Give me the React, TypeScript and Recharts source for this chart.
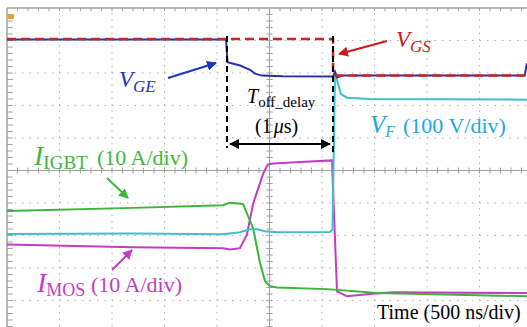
import { ComposedChart, Line, XAxis, YAxis, ReferenceLine } from "recharts";

// time in ns (500 ns/div), amplitude in screen divisions (center = 0)
const vgeT = [0, 2086, 2100, 2219, 2314, 2362, 2429, 2629, 3105, 3124, 3143, 3200, 3267, 4930, 4952];
const vgeV = [4.03, 4.03, 3.33, 3.23, 3.1, 2.98, 2.92, 2.9, 2.89, 3.04, 2.87, 2.92, 2.92, 2.92, 3.3];

const vgsT = [0, 3105, 3105, 4952];
const vgsV = [4.05, 4.05, 2.92, 2.92];

const vfT = [0, 1200, 2057, 2219, 2314, 2381, 2457, 2571, 3076, 3100, 3124, 3180, 3238, 3457, 4952];
const vfV = [-1.95, -1.94, -1.96, -1.9, -1.81, -1.81, -1.87, -1.9, -1.89, -1.81, 3.01, 2.35, 2.24, 2.2, 2.18];

const igbtT = [0, 1200, 2057, 2124, 2248, 2343, 2410, 2457, 2505, 2571, 3048, 3524, 4952];
const igbtV = [-1.25, -1.15, -1.07, -0.99, -1.03, -1.77, -2.85, -3.41, -3.56, -3.6, -3.65, -3.77, -3.87];

const mosT = [0, 1200, 2057, 2124, 2219, 2286, 2343, 2438, 2476, 2505, 2790, 3095, 3143, 3238, 3429, 3676, 4952];
const mosV = [-2.28, -2.36, -2.39, -2.43, -2.39, -1.96, -1.03, -0.11, 0.14, 0.21, 0.26, 0.31, -3.72, -3.87, -3.81, -3.75, -3.77];

const gridX = [500, 1000, 1500, 2000, 3000, 3500, 4000, 4500];
const gridY = [-4, -3, -2, -1, 1, 2, 3, 4];
const minorX = Array.from({ length: 49 }, (_, i) => (i + 1) * 100);
const minorY = Array.from({ length: 49 }, (_, i) => -4.8 + i * 0.2);

const toPts = (t: number[], v: number[]) => t.map((x, i) => ({ t: x, v: v[i] }));

const serif = "'Liberation Serif', 'Times New Roman', serif";
const gridColor = "#b4b4b4";
const axisColor = "#a0a0a0";

export default function App() {
  return (
    <div style={{ position: "absolute", left: 0, top: 0, width: 527, height: 327, overflow: "hidden", background: "#fff" }}>
      <ComposedChart width={532} height={333} margin={{ top: 8, left: 7, right: 0, bottom: 0 }}>
        <XAxis dataKey="t" type="number" domain={[0, 5000]} hide allowDataOverflow />
        <YAxis type="number" domain={[-5, 5]} hide allowDataOverflow />
        {gridX.map((x) => (
          <ReferenceLine key={"gx" + x} x={x} stroke={gridColor} strokeDasharray="1.5 5" />
        ))}
        {gridY.map((y) => (
          <ReferenceLine key={"gy" + y} y={y} stroke={gridColor} strokeDasharray="1.5 6" />
        ))}
        <ReferenceLine x={2500} stroke={axisColor} />
        <ReferenceLine y={0} stroke={axisColor} />
        <ReferenceLine x={0} stroke={axisColor} strokeWidth={1.5} />
        <ReferenceLine y={5} stroke={axisColor} strokeWidth={1.5} />
        {minorX.map((x) => (
          <ReferenceLine key={"tx" + x} segment={[{ x, y: -0.09 }, { x, y: 0.09 }]} stroke={axisColor} />
        ))}
        {minorX.map((x) => (
          <ReferenceLine key={"tt" + x} segment={[{ x, y: 5 }, { x, y: 4.9 }]} stroke={axisColor} />
        ))}
        {minorY.map((y) => (
          <ReferenceLine key={"ty" + y} segment={[{ x: 2470, y }, { x: 2530, y }]} stroke={axisColor} />
        ))}
        {minorY.map((y) => (
          <ReferenceLine key={"tl" + y} segment={[{ x: 0, y }, { x: 55, y }]} stroke={axisColor} />
        ))}
        <Line data={toPts(mosT, mosV)} dataKey="v" type="linear" stroke="#c43cc4" strokeWidth={2} dot={false} isAnimationActive={false} />
        <Line data={toPts(igbtT, igbtV)} dataKey="v" type="linear" stroke="#3cb53c" strokeWidth={2} dot={false} isAnimationActive={false} />
        <Line data={toPts(vfT, vfV)} dataKey="v" type="linear" stroke="#3fc0c6" strokeWidth={2} dot={false} isAnimationActive={false} />
        <Line data={toPts(vgeT, vgeV)} dataKey="v" type="linear" stroke="#2b2fa8" strokeWidth={2} dot={false} isAnimationActive={false} />
        <Line data={toPts(vgsT, vgsV)} dataKey="v" type="linear" stroke="#d42020" strokeWidth={2.5} strokeDasharray="9 5" dot={false} isAnimationActive={false} />
      </ComposedChart>

      <svg width={527} height={327} style={{ position: "absolute", left: 0, top: 0, pointerEvents: "none" }} fontFamily={serif}>
        <defs>
          {[
            ["ahBlue", "#1f32c8"],
            ["ahRed", "#cc1c1c"],
            ["ahGreen", "#3cb93c"],
            ["ahMag", "#c43cc4"],
            ["ahBlack", "#000"],
          ].map(([id, c]) => (
            <marker key={id} id={id} viewBox="0 0 10 10" refX="9" refY="5" markerWidth="5" markerHeight="5" orient="auto-start-reverse">
              <path d="M0,0 L10,5 L0,10 z" fill={c} />
            </marker>
          ))}
        </defs>
        <rect x={8} y={14} width={6} height={5} fill="#f0a020" rx={1} />

        {/* delay markers */}
        <line x1={227} y1={36} x2={227} y2={148} stroke="#000" strokeWidth={2} strokeDasharray="6 4" />
        <line x1={333} y1={36} x2={333} y2={152} stroke="#000" strokeWidth={2} strokeDasharray="6 4" />
        <line x1={230} y1={144} x2={330} y2={144} stroke="#000" strokeWidth={2} markerStart="url(#ahBlack)" markerEnd="url(#ahBlack)" />

        <line x1={168} y1={78} x2={216} y2={63} stroke="#1f32c8" strokeWidth={2} markerEnd="url(#ahBlue)" />
        <line x1={387} y1={41} x2={339} y2={54} stroke="#cc1c1c" strokeWidth={2} markerEnd="url(#ahRed)" />
        <line x1={107} y1={178} x2={128} y2={198} stroke="#3cb93c" strokeWidth={2} markerEnd="url(#ahGreen)" />
        <line x1={112} y1={270} x2={132} y2={250} stroke="#c43cc4" strokeWidth={2} markerEnd="url(#ahMag)" />

        <text x={119} y={87} fill="#1f32c8" fontSize={23}>
          <tspan fontStyle="italic">V</tspan>
          <tspan fontSize={17} dy={5} fontStyle="italic">GE</tspan>
        </text>
        <text x={396} y={47} fill="#cc1c1c" fontSize={23}>
          <tspan fontStyle="italic">V</tspan>
          <tspan fontSize={17} dy={5} fontStyle="italic">GS</tspan>
        </text>
        <text x={247} y={103} fill="#000" fontSize={20}>
          <tspan fontStyle="italic">T</tspan>
          <tspan fontSize={15} dy={4}>off_delay</tspan>
        </text>
        <text x={255} y={133} fill="#000" fontSize={20}>
          <tspan>(1</tspan>
          <tspan fontStyle="italic" dx={2}>μ</tspan>
          <tspan>s)</tspan>
        </text>
        <text x={370} y={133} fill="#1ba8e0" fontSize={25}>
          <tspan fontStyle="italic">V</tspan>
          <tspan fontSize={16} dy={4} fontStyle="italic">F</tspan>
          <tspan x={403} dy={-4} fontSize={22}>(100 V/div)</tspan>
        </text>
        <text x={34} y={165} fill="#3cb93c" fontSize={28}>
          <tspan fontStyle="italic">I</tspan>
          <tspan fontSize={19} dy={4}>IGBT</tspan>
          <tspan x={97} dy={-4} fontSize={22}>(10 A/div)</tspan>
        </text>
        <text x={37} y={292} fill="#c43cc4" fontSize={28}>
          <tspan fontStyle="italic">I</tspan>
          <tspan fontSize={18} dy={4}>MOS</tspan>
          <tspan x={91} dy={-4} fontSize={22}>(10 A/div)</tspan>
        </text>
        <text x={377} y={319} fill="#000" fontSize={20}>Time (500 ns/div)</text>
      </svg>
    </div>
  );
}
